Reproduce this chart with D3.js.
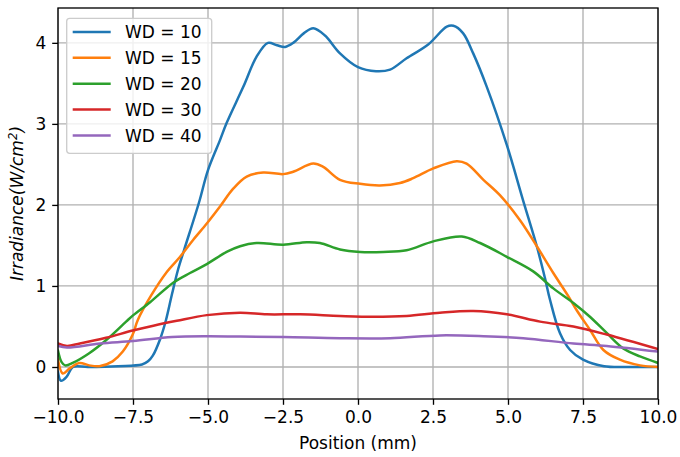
<!DOCTYPE html>
<html><head><meta charset="utf-8">
<script src="https://cdn.jsdelivr.net/npm/d3@7"></script>
<style>body{margin:0;background:#fff}svg{display:block}text{font-family:"DejaVu Sans",sans-serif}</style>
</head><body><svg id="c" width="680" height="457"></svg>
<script>
const seriesNames = ["WD = 10","WD = 15","WD = 20","WD = 30","WD = 40"];
const colors = ["#1f77b4","#ff7f0e","#2ca02c","#d62728","#9467bd"];
const xTicks = [-10,-7.5,-5,-2.5,0,2.5,5,7.5,10];
const yTicks = [0,1,2,3,4];

const wd10x = [-10,-9.9,-9.71,-9.5,-9.0,-8.0,-7.2,-7.0,-6.84,-6.6,-6.4,-6.2,-6.0,-5.8,-5.3,-5.0,-4.6,-4.38,-3.82,-3.38,-3.0,-2.7,-2.43,-2.16,-1.8,-1.49,-1.1,-0.6,0.0,0.6,1.07,1.62,2.34,2.96,3.18,3.5,3.84,4.29,4.96,5.5,5.96,6.23,6.4,6.73,7.07,7.5,8.2,9.0,10];
const wd10y = [-0.06,-0.17,-0.12,0.0,0.0,0.01,0.03,0.07,0.14,0.34,0.58,0.9,1.2,1.44,2.03,2.43,2.8,3.01,3.46,3.83,4.0,3.97,3.95,4.0,4.12,4.18,4.09,3.87,3.70,3.65,3.67,3.81,3.98,4.2,4.21,4.12,3.87,3.46,2.74,2.06,1.49,1.1,0.83,0.42,0.21,0.09,0.01,0.0,0.0];
const wd15x = [-10,-9.84,-9.62,-9.29,-8.96,-8.62,-8.18,-7.84,-7.51,-7.34,-6.9,-6.38,-5.93,-5.49,-5.04,-4.6,-4.16,-3.71,-3.16,-2.49,-2.16,-1.49,-1.16,-0.6,0.07,0.73,1.4,1.84,2.51,3.29,3.62,4.18,4.73,5.4,5.96,6.51,7.0,7.29,7.73,8.18,8.73,9.4,10];
const wd15y = [0.09,-0.08,-0.02,0.05,0.02,0.01,0.07,0.19,0.40,0.58,0.88,1.17,1.36,1.57,1.77,1.98,2.2,2.35,2.40,2.38,2.41,2.51,2.47,2.31,2.26,2.24,2.27,2.33,2.45,2.54,2.51,2.31,2.12,1.81,1.49,1.16,0.88,0.70,0.46,0.21,0.09,0.02,0.0];
const wd20x = [-10,-9.88,-9.76,-9.51,-8.96,-8.4,-7.73,-7.49,-6.93,-6.16,-5.6,-5.04,-4.38,-3.93,-3.38,-2.49,-1.71,-1.27,-0.6,0.07,0.84,1.62,2.51,3.46,4.07,4.96,5.84,6.51,7.18,7.73,8.29,8.84,9.4,10];
const wd20y = [0.2,0.06,0.02,0.05,0.17,0.33,0.56,0.64,0.8,1.04,1.16,1.27,1.42,1.49,1.53,1.51,1.54,1.53,1.45,1.42,1.42,1.44,1.55,1.61,1.53,1.36,1.18,0.97,0.79,0.62,0.42,0.23,0.13,0.05];
const wd30x = [-10,-9.7,-9.27,-8.4,-7.51,-6.82,-6.04,-5.04,-3.93,-3.04,-1.93,-0.6,0.51,1.62,2.73,3.84,4.96,6.07,7.18,8.29,10];
const wd30y = [0.29,0.26,0.29,0.36,0.45,0.51,0.57,0.64,0.67,0.65,0.65,0.63,0.62,0.63,0.67,0.69,0.65,0.56,0.50,0.40,0.22];
const wd40x = [-10,-9.7,-8.6,-7.5,-6.2,-5.04,-3.93,-2.49,-0.6,1.07,2.73,4.18,5.51,7.18,8.29,10];
const wd40y = [0.26,0.24,0.29,0.32,0.37,0.38,0.375,0.37,0.355,0.355,0.39,0.38,0.355,0.29,0.26,0.19];

const xs = [wd10x,wd15x,wd20x,wd30x,wd40x];
const ys = [wd10y,wd15y,wd20y,wd30y,wd40y];

const L=58, T=8, W=600, H=391;
const svg = d3.select("#c");
const x = d3.scaleLinear().domain([-10,10]).range([L,L+W]);
const y = d3.scaleLinear().domain([-0.395,4.43]).range([T+H,T]);
const fs = 17, lw = 2.5, sw = 1.33, tk = 5.8;

// grid
const g = svg.append("g");
g.selectAll(".gx").data(xTicks).join("line").attr("x1",d=>x(d)).attr("x2",d=>x(d)).attr("y1",T).attr("y2",T+H).attr("stroke","#b0b0b0").attr("stroke-width",sw);
g.selectAll(".gy").data(yTicks).join("line").attr("y1",d=>y(d)).attr("y2",d=>y(d)).attr("x1",L).attr("x2",L+W).attr("stroke","#b0b0b0").attr("stroke-width",sw);

svg.append("clipPath").attr("id","clip").append("rect").attr("x",L).attr("y",T).attr("width",W).attr("height",H);
const line = d3.line().curve(d3.curveCatmullRom.alpha(0.5));
const lg = svg.append("g").attr("clip-path","url(#clip)");
seriesNames.forEach((n,i)=>{
  const pts = xs[i].map((v,j)=>[x(v),y(ys[i][j])]);
  lg.append("path").attr("d",line(pts)).attr("fill","none").attr("stroke",colors[i]).attr("stroke-width",lw).attr("stroke-linejoin","round").attr("stroke-linecap","square");
});

// axes
const xa = svg.append("g").attr("transform",`translate(0,${T+H})`).call(d3.axisBottom(x).tickValues(xTicks).tickFormat(d3.format(".1f")).tickSize(tk).tickPadding(tk));
const ya = svg.append("g").attr("transform",`translate(${L},0)`).call(d3.axisLeft(y).tickValues(yTicks).tickFormat(d3.format("d")).tickSize(tk).tickPadding(tk));
[xa,ya].forEach(a=>{a.select(".domain").remove();a.selectAll("line").attr("stroke","#000").attr("stroke-width",sw);a.selectAll("text").attr("font-size",fs).attr("font-family","DejaVu Sans").attr("fill","#000");});
svg.append("rect").attr("x",L).attr("y",T).attr("width",W).attr("height",H).attr("fill","none").attr("stroke","#000").attr("stroke-width",sw);

// labels
svg.append("text").attr("x",L+W/2).attr("y",449).attr("text-anchor","middle").attr("font-size",fs).text("Position (mm)");
const yl = svg.append("text").attr("transform",`translate(23,${T+H/2}) rotate(-90)`).attr("text-anchor","middle").attr("font-size",fs).attr("font-style","italic");
yl.append("tspan").text("Irradiance(W/cm");
yl.append("tspan").attr("font-size",fs*0.7).attr("dy",-6).text("2");
yl.append("tspan").attr("dy",6).text(")");

// legend
const leg = svg.append("g");
leg.append("rect").attr("x",66.7).attr("y",18.3).attr("width",145).attr("height",135).attr("rx",3).attr("fill","#fff").attr("fill-opacity",0.8).attr("stroke","#cccccc").attr("stroke-width",sw);
seriesNames.forEach((n,i)=>{
  const yy = 31.9 + 25.9*i;
  leg.append("line").attr("x1",72.7).attr("x2",110.7).attr("y1",yy).attr("y2",yy).attr("stroke",colors[i]).attr("stroke-width",lw);
  leg.append("text").attr("x",125).attr("y",yy+6.3).attr("font-size",fs).text(n);
});
</script></body></html>
